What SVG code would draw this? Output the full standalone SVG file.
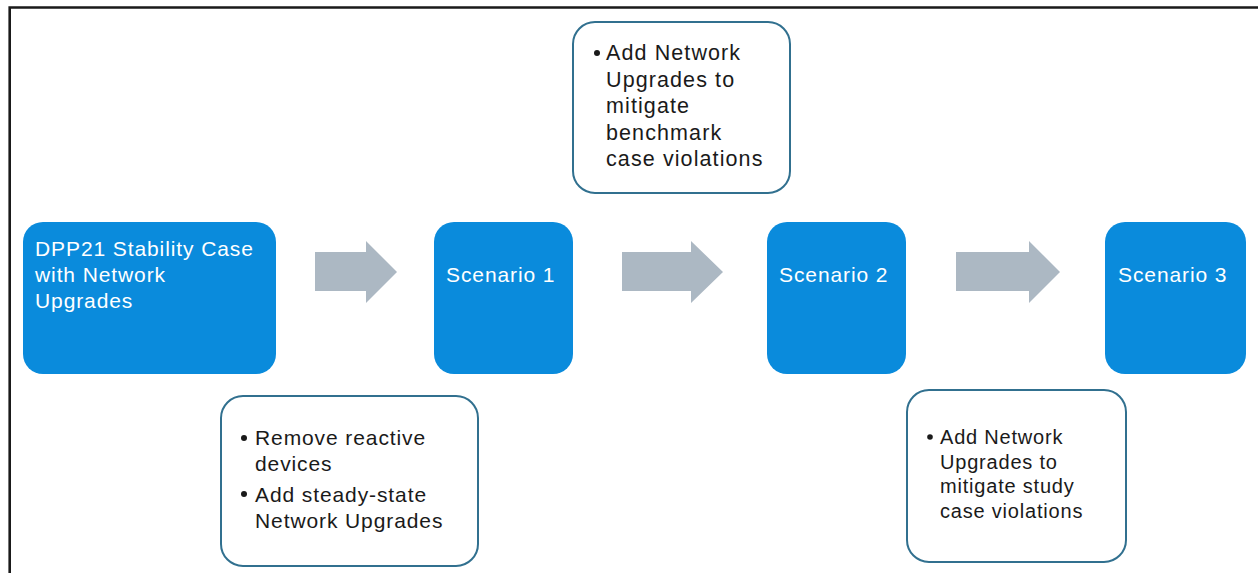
<svg xmlns="http://www.w3.org/2000/svg" width="1258" height="573" viewBox="0 0 1258 573">
<style>
.blue{fill:#0a8bdc}
.out{fill:#ffffff;stroke:#31708f;stroke-width:2}
.arr{fill:#acb8c3}
.wt{font-family:"Liberation Sans",Arial,sans-serif;font-size:21px;letter-spacing:0.9px;fill:#ffffff}
.bt{font-family:"Liberation Sans",Arial,sans-serif;font-size:21px;letter-spacing:0.9px;fill:#1a1a1a}
.bb{font-family:"Liberation Sans",Arial,sans-serif;font-size:21.5px;letter-spacing:1.1px;fill:#1a1a1a}
.bs{font-family:"Liberation Sans",Arial,sans-serif;font-size:20px;letter-spacing:0.8px;fill:#1a1a1a}
.dot{fill:#1a1a1a}
</style>
<rect width="1258" height="573" fill="#ffffff"/>
<path d="M9.7,573 V7.5 H1258" fill="none" stroke="#1a1a1a" stroke-width="2.6"/>

<g id="connectors">
<path class="arr" d="M315,252 H366 V241 L397,272 L366,303 V291 H315 Z"/>
<path class="arr" d="M622,252 H691 V241 L723,272 L691,303 V291 H622 Z"/>
<path class="arr" d="M956,252 H1029 V241 L1060,272 L1029,303 V291 H956 Z"/>
</g>

<g id="dpp21">
<rect class="blue" x="23" y="222" width="253" height="152" rx="20"/>
<text class="wt" x="35" y="256">DPP21 Stability Case</text>
<text class="wt" x="35" y="282">with Network</text>
<text class="wt" x="35" y="308">Upgrades</text>
</g>

<g id="scenario1">
<rect class="blue" x="434" y="222" width="139" height="152" rx="20"/>
<text class="wt" x="446" y="282">Scenario 1</text>
</g>

<g id="scenario2">
<rect class="blue" x="767" y="222" width="139" height="152" rx="20"/>
<text class="wt" x="779" y="282">Scenario 2</text>
</g>

<g id="scenario3">
<rect class="blue" x="1105" y="222" width="141" height="152" rx="20"/>
<text class="wt" x="1118" y="282">Scenario 3</text>
</g>

<g id="note1">
<rect class="out" x="221" y="396" width="257" height="170" rx="22"/>
<circle class="dot" cx="244" cy="438" r="3"/>
<text class="bt" x="255" y="445">Remove reactive</text>
<text class="bt" x="255" y="471">devices</text>
<circle class="dot" cx="244" cy="494" r="3"/>
<text class="bt" x="255" y="502">Add steady-state</text>
<text class="bt" x="255" y="528">Network Upgrades</text>
</g>

<g id="note2">
<rect class="out" x="573" y="22" width="217" height="171" rx="22"/>
<circle class="dot" cx="597" cy="53" r="3"/>
<text class="bb" x="606" y="60">Add Network</text>
<text class="bb" x="606" y="86.5">Upgrades to</text>
<text class="bb" x="606" y="113">mitigate</text>
<text class="bb" x="606" y="139.5">benchmark</text>
<text class="bb" x="606" y="166">case violations</text>
</g>

<g id="note3">
<rect class="out" x="907" y="390" width="219" height="172" rx="22"/>
<circle class="dot" cx="930" cy="437" r="2.8"/>
<text class="bs" x="940" y="444">Add Network</text>
<text class="bs" x="940" y="468.5">Upgrades to</text>
<text class="bs" x="940" y="493">mitigate study</text>
<text class="bs" x="940" y="517.5">case violations</text>
</g>
</svg>
